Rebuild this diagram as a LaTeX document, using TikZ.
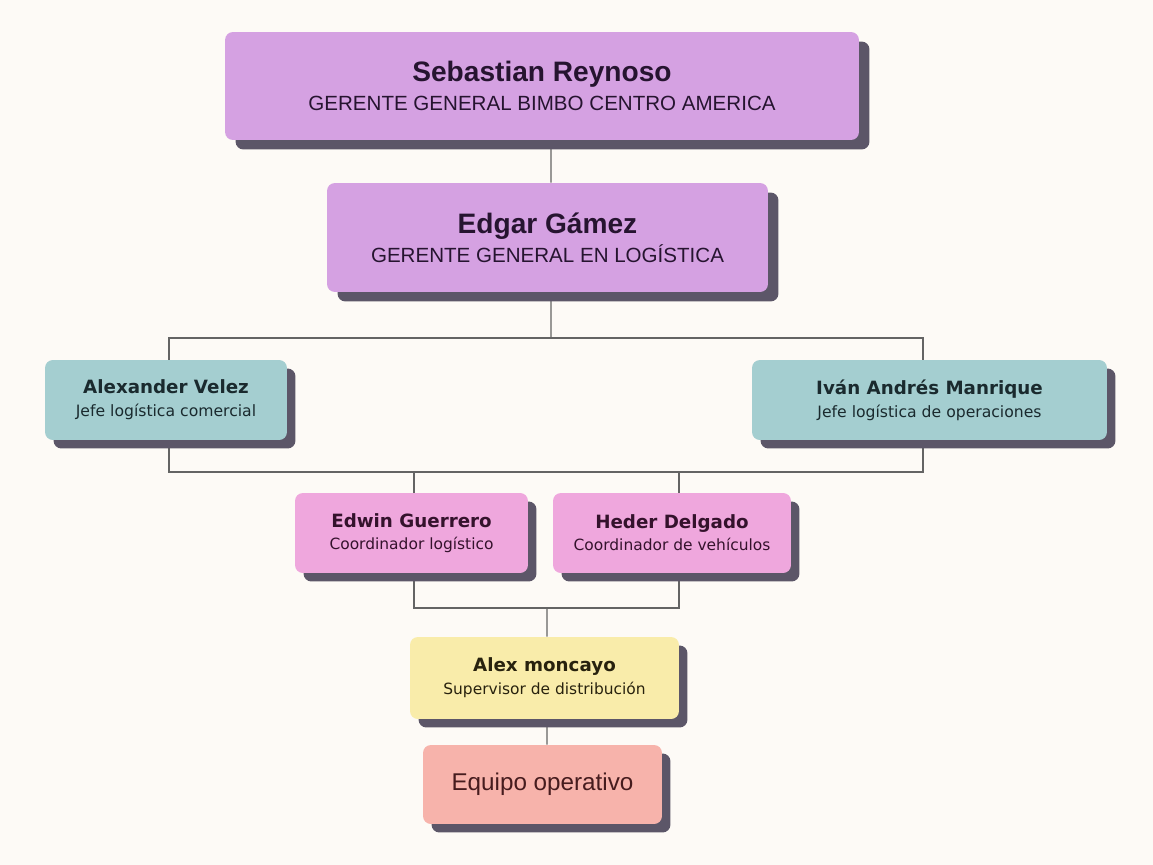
\documentclass[tikz,border=0pt]{standalone}
\usepackage{fontspec}
\setmainfont{Liberation Sans}
\newfontfamily\dvsans{DejaVu Sans}
\definecolor{paper}{RGB}{253,250,246}
\definecolor{lilac}{RGB}{213,161,226}
\definecolor{lilacink}{RGB}{38,20,48}
\definecolor{jefe}{RGB}{164,206,208}
\definecolor{jefeink}{RGB}{26,42,46}
\definecolor{coord}{RGB}{239,167,221}
\definecolor{coordink}{RGB}{52,18,44}
\definecolor{superv}{RGB}{249,236,170}
\definecolor{supervink}{RGB}{40,34,14}
\definecolor{equipo}{RGB}{247,179,171}
\definecolor{equipoink}{RGB}{70,28,30}
\definecolor{shade}{RGB}{92,86,104}
\definecolor{wire}{RGB}{100,100,100}
\usetikzlibrary{shadows,backgrounds}
\tikzset{
  card/.style={rounded corners=4.5pt,align=center,inner sep=0pt,
               drop shadow={shadow xshift=0.21cm,shadow yshift=-0.19cm,fill=shade,opacity=1}},
  smallcard/.style={rounded corners=4.5pt,align=center,inner sep=0pt,
               drop shadow={shadow xshift=0.17cm,shadow yshift=-0.17cm,fill=shade,opacity=1}},
  chief/.style={card,fill=lilac,text=lilacink,font=\fontsize{11.7}{16.4}\selectfont},
  lead/.style={smallcard,fill=jefe,text=jefeink,font=\dvsans\fontsize{8.9}{13}\selectfont},
  coordbox/.style={smallcard,fill=coord,text=coordink,font=\dvsans\fontsize{8.8}{12.6}\selectfont},
  supbox/.style={smallcard,fill=superv,text=supervink,font=\dvsans\fontsize{8.8}{13}\selectfont},
  teambox/.style={smallcard,fill=equipo,text=equipoink,font=\fontsize{13.8}{16}\selectfont},
  link/.style={draw=wire,line width=0.75pt},
}
\newcommand{\bigname}[1]{{\fontsize{16}{19}\selectfont\bfseries #1}}
\newcommand{\smallname}[1]{{\fontsize{10.4}{13}\selectfont\bfseries #1}}

\begin{document}
\begin{tikzpicture}[x=0.02cm,y=-0.02cm]
  \useasboundingbox (0,0) rectangle (1153,865);
  % top management
  \node[chief,minimum width=12.68cm,minimum height=2.16cm] (seb) at (542,86)
    {\bigname{Sebastian Reynoso}\\GERENTE GENERAL BIMBO CENTRO AMERICA};
  \node[chief,minimum width=8.82cm,minimum height=2.18cm] (edg) at (547.5,237.5)
    {\bigname{Edgar Gámez}\\GERENTE GENERAL EN LOGÍSTICA};
  % jefes
  \node[lead,minimum width=4.84cm,minimum height=1.6cm] (ale) at (166,400)
    {\smallname{Alexander Velez}\\Jefe logística comercial};
  \node[lead,minimum width=7.1cm,minimum height=1.6cm] (iva) at (929.5,400)
    {\smallname{Iván Andrés Manrique}\\Jefe logística de operaciones};
  % coordinadores
  \node[coordbox,minimum width=4.66cm,minimum height=1.6cm] (edw) at (411.5,533)
    {\smallname{Edwin Guerrero}\\Coordinador logístico};
  \node[coordbox,minimum width=4.76cm,minimum height=1.6cm] (hed) at (672,533)
    {\smallname{Heder Delgado}\\Coordinador de vehículos};
  % supervision and team
  \node[supbox,minimum width=5.38cm,minimum height=1.64cm] (mon) at (544.5,678)
    {\smallname{Alex moncayo}\\Supervisor de distribución};
  \node[teambox,minimum width=4.78cm,minimum height=1.58cm] (equ) at (542.5,784.5)
    {Equipo operativo};

  \coordinate (busA) at (551,338);
  \coordinate (busB) at (547,472);
  \coordinate (busC) at (547,608);

  \begin{scope}[on background layer]
    \fill[paper] (0,0) rectangle (1153,865);
    \draw[link] ([xshift=0.18cm]seb.south) -- ([xshift=0.07cm]edg.north);
    \draw[link] ([xshift=0.07cm]edg.south) -- (busA);
    \draw[link] ([xshift=0.06cm]ale.north) |- (busA) -| ([xshift=-0.13cm]iva.north);
    \draw[link] ([xshift=0.06cm]ale.south) |- (busB) -| ([xshift=-0.13cm]iva.south);
    \draw[link] ([xshift=0.05cm]edw.north) -- ++(0,-21);
    \draw[link] ([xshift=0.14cm]hed.north) -- ++(0,-21);
    \draw[link] ([xshift=0.05cm]edw.south) |- (busC) -| ([xshift=0.14cm]hed.south);
    \draw[link] (busC) -- ([xshift=0.05cm]mon.north);
    \draw[link] ([xshift=0.05cm]mon.south) -- ([xshift=0.09cm]equ.north);
  \end{scope}
\end{tikzpicture}
\end{document}
